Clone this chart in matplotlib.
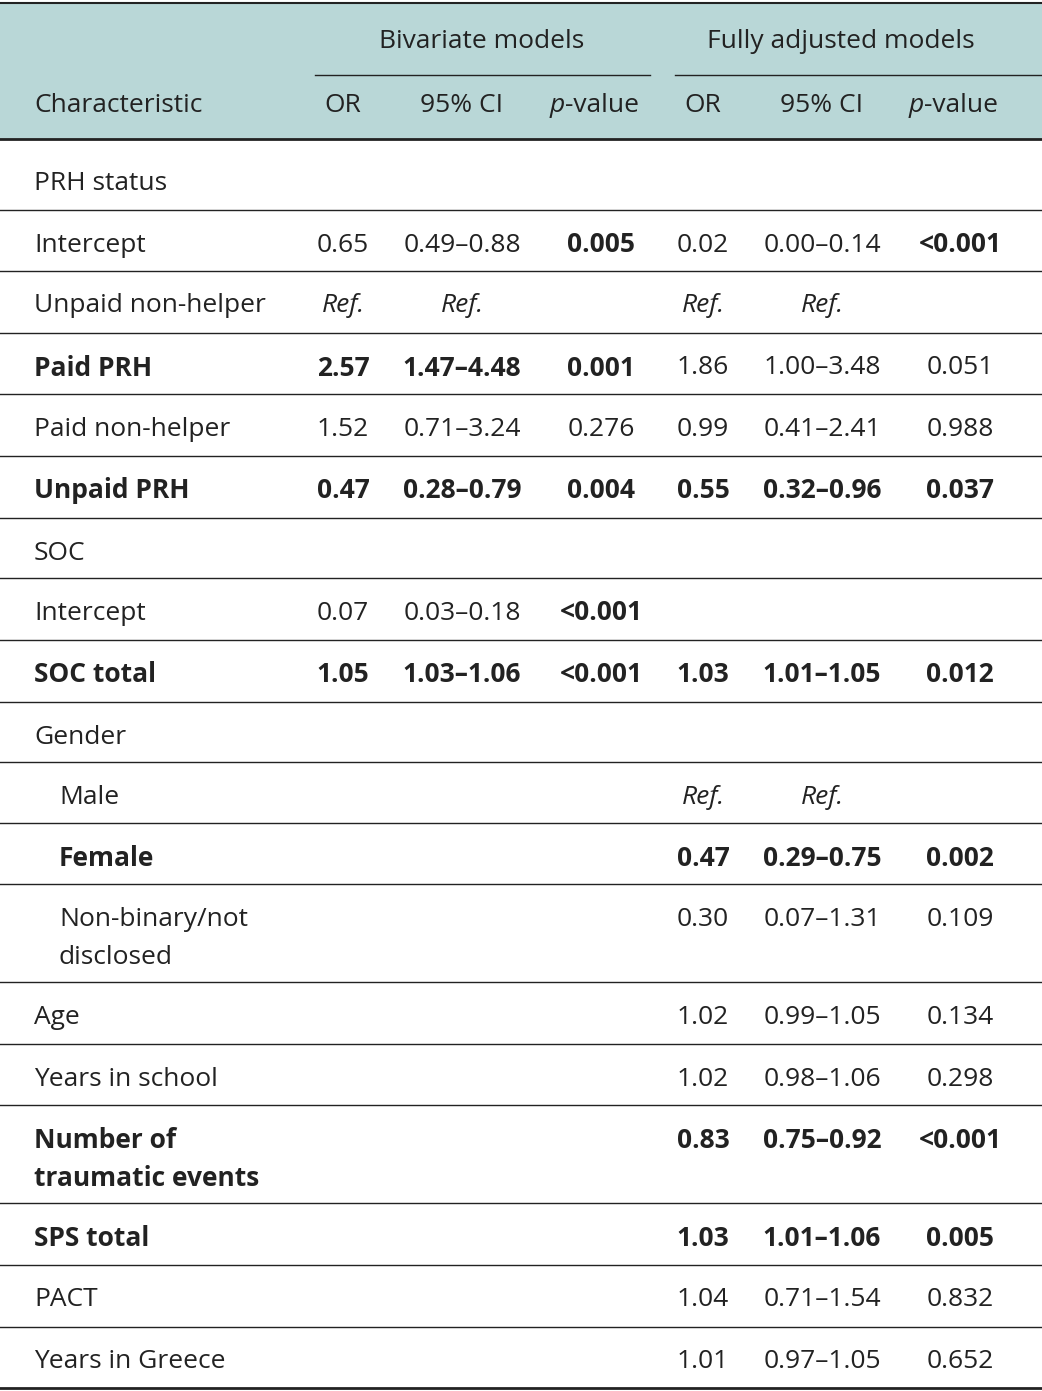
import matplotlib
matplotlib.use("Agg")
import matplotlib.pyplot as plt

plt.rcParams['font.family'] = ['Open Sans', 'DejaVu Sans']

# table content
labels = ["PRH status", "Intercept", "Unpaid non-helper", "Paid PRH", "Paid non-helper",
          "Unpaid PRH", "SOC", "Intercept", "SOC total", "Gender", "Male", "Female",
          "Non-binary/not\ndisclosed", "Age", "Years in school",
          "Number of\ntraumatic events", "SPS total", "PACT", "Years in Greece"]
indent = [0, 0, 0, 0, 0, 0, 0, 0, 0, 0, 1, 1, 1, 0, 0, 0, 0, 0, 0]
bold_label = [0, 0, 0, 1, 0, 1, 0, 0, 1, 0, 0, 1, 0, 0, 0, 1, 1, 0, 0]
values = [
    ["", "", "", "", "", ""],
    ["0.65", "0.49–0.88", "0.005", "0.02", "0.00–0.14", "<0.001"],
    ["Ref.", "Ref.", "", "Ref.", "Ref.", ""],
    ["2.57", "1.47–4.48", "0.001", "1.86", "1.00–3.48", "0.051"],
    ["1.52", "0.71–3.24", "0.276", "0.99", "0.41–2.41", "0.988"],
    ["0.47", "0.28–0.79", "0.004", "0.55", "0.32–0.96", "0.037"],
    ["", "", "", "", "", ""],
    ["0.07", "0.03–0.18", "<0.001", "", "", ""],
    ["1.05", "1.03–1.06", "<0.001", "1.03", "1.01–1.05", "0.012"],
    ["", "", "", "", "", ""],
    ["", "", "", "Ref.", "Ref.", ""],
    ["", "", "", "0.47", "0.29–0.75", "0.002"],
    ["", "", "", "0.30", "0.07–1.31", "0.109"],
    ["", "", "", "1.02", "0.99–1.05", "0.134"],
    ["", "", "", "1.02", "0.98–1.06", "0.298"],
    ["", "", "", "0.83", "0.75–0.92", "<0.001"],
    ["", "", "", "1.03", "1.01–1.06", "0.005"],
    ["", "", "", "1.04", "0.71–1.54", "0.832"],
    ["", "", "", "1.01", "0.97–1.05", "0.652"],
]
bold_vals = [
    [0]*6, [0, 0, 1, 0, 0, 1], [0]*6, [1, 1, 1, 0, 0, 0], [0]*6, [1]*6, [0]*6,
    [0, 0, 1, 0, 0, 0], [1]*6, [0]*6, [0]*6, [0, 0, 0, 1, 1, 1], [0]*6, [0]*6, [0]*6,
    [0, 0, 0, 1, 1, 1], [0, 0, 0, 1, 1, 1], [0]*6, [0]*6,
]
row_edges = [140, 210, 271, 333, 394, 456, 518, 578, 640, 702, 762, 823, 884, 982,
             1044, 1105, 1203, 1265, 1327, 1388]

W, H = 1042, 1391
fig = plt.figure(figsize=(W / 100, H / 100), dpi=100)
ax = fig.add_axes([0, 0, 1, 1])
ax.set_xlim(0, W)
ax.set_ylim(H, 0)
ax.axis("off")

txt = "#222222"
fs = 19
col_x = [343, 462, 601, 703, 822, 960]

# header band
ax.add_patch(plt.Rectangle((0, 3), W, 136, color="#b9d7d7", lw=0))
ax.plot([0, W], [3, 3], color="#222", lw=1.5)
ax.plot([0, W], [139, 139], color="#222", lw=2)
ax.text(482, 41, "Bivariate models", ha="center", va="center", fontsize=fs, color=txt)
ax.text(841, 41, "Fully adjusted models", ha="center", va="center", fontsize=fs, color=txt)
ax.plot([315, 650], [75, 75], color="#222", lw=1)
ax.plot([675, W], [75, 75], color="#222", lw=1)
ax.text(34, 105, "Characteristic", ha="left", va="center", fontsize=fs, color=txt)
for x, h in zip(col_x, ["OR", "95% CI", None, "OR", "95% CI", None]):
    if h:
        ax.text(x, 105, h, ha="center", va="center", fontsize=fs, color=txt)
for split in [565, 924]:
    ax.text(split, 105, "p", ha="right", va="center", fontsize=fs, color=txt, style="italic")
    ax.text(split, 105, "-value", ha="left", va="center", fontsize=fs, color=txt)

# body
for i, lab in enumerate(labels):
    top, bot = row_edges[i], row_edges[i + 1]
    y = top + (43 if i == 0 else 35)
    weight = "bold" if bold_label[i] else "normal"
    for k, part in enumerate(lab.split("\n")):
        ax.text(34 + 25 * indent[i], y + 38 * k, part, ha="left", va="center",
                fontsize=fs, color=txt, fontweight=weight)
    for j, v in enumerate(values[i]):
        if v:
            ax.text(col_x[j], y, v, ha="center", va="center", fontsize=fs, color=txt,
                    fontweight="bold" if bold_vals[i][j] else "normal",
                    style="italic" if v == "Ref." else "normal")
    lw = 2 if i == len(labels) - 1 else 1
    ax.plot([0, W], [bot, bot], color="#222", lw=lw)

fig.savefig("out.png", dpi=100)
